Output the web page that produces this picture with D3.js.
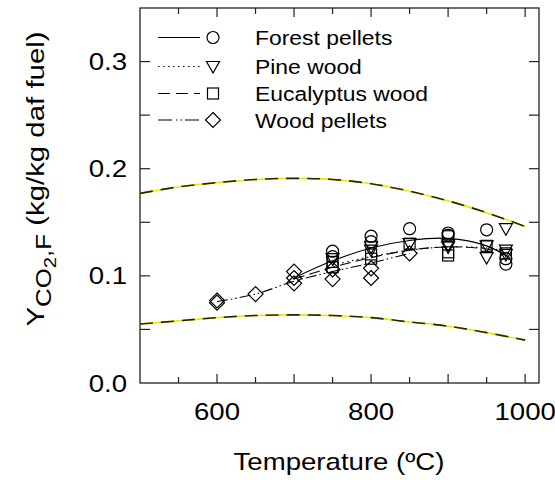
<!DOCTYPE html>
<html>
<head>
<meta charset="utf-8">
<script src="https://cdn.jsdelivr.net/npm/d3@7"></script>
<style>
  html, body { margin: 0; padding: 0; background: #fff; }
  text { font-family: "Liberation Sans", Arial, sans-serif; fill: #000; }
</style>
</head>
<body>
<svg id="chart" width="555" height="480"></svg>
<script>
// Axis ticks
const xTicks = [600, 800, 1000];
const yTicks = [0.0, 0.1, 0.2, 0.3];

// Envelope curves (upper and lower limits)
const envT = [500, 550, 600, 650, 700, 750, 800, 850, 900, 950, 1000];
const envUpper = [0.177, 0.183, 0.187, 0.190, 0.191, 0.190, 0.186, 0.179, 0.170, 0.159, 0.146];
const envLower = [0.055, 0.058, 0.061, 0.063, 0.0636, 0.063, 0.061, 0.057, 0.053, 0.047, 0.040];

// Measured points
const forestT = [750, 750, 800, 800, 850, 900, 900, 950, 975, 975];
const forestY = [0.123, 0.118, 0.137, 0.132, 0.144, 0.140, 0.138, 0.143, 0.116, 0.111];
const pineT = [750, 800, 800, 850, 900, 900, 950, 950, 975, 975, 975];
const pineY = [0.116, 0.127, 0.124, 0.130, 0.129, 0.127, 0.128, 0.117, 0.144, 0.124, 0.120];
const eucT = [750, 750, 800, 800, 850, 900, 900, 900, 950, 975];
const eucY = [0.113, 0.108, 0.120, 0.116, 0.130, 0.137, 0.122, 0.119, 0.128, 0.121];
const woodT = [600, 600, 650, 700, 700, 700, 750, 750, 800, 800, 850];
const woodY = [0.077, 0.075, 0.083, 0.104, 0.098, 0.093, 0.106, 0.097, 0.107, 0.098, 0.121];

// Fitted trend lines
const forestFitT = [700, 750, 800, 850, 900, 950, 980];
const forestFitY = [0.098, 0.114, 0.126, 0.133, 0.135, 0.128, 0.117];
const pineFitT = [750, 800, 850, 900, 950, 975];
const pineFitY = [0.110, 0.118, 0.124, 0.127, 0.126, 0.123];
const eucFitT = [700, 750, 800, 850, 900, 950, 975];
const eucFitY = [0.097, 0.108, 0.117, 0.124, 0.127, 0.125, 0.121];
const woodFitT = [600, 650, 700, 750, 800, 850];
const woodFitY = [0.076, 0.083, 0.095, 0.104, 0.112, 0.121];

const legendNames = ["Forest pellets", "Pine wood", "Eucalyptus wood", "Wood pellets"];

const svg = d3.select("#chart");
const L = 140, R = 539, T = 8, B = 383;
const WIDEN = 1.15; // horizontal stretch of the label lettering

const x = d3.scaleLinear().domain([500, 1018]).range([L, R]);
const y = d3.scaleLinear().domain([0, 0.35]).range([B, T]);

// Frame
svg.append("rect").attr("x", L).attr("y", T).attr("width", R - L).attr("height", B - T)
  .attr("fill", "none").attr("stroke", "#222").attr("stroke-width", 1.3);

// Inward ticks on all four sides
const g = svg.append("g").attr("stroke", "#222").attr("stroke-width", 1.2);
d3.range(550, 1001, 50).forEach(v => {
  const major = v % 100 === 0;
  const len = major ? 9 : 6;
  g.append("line").attr("x1", x(v)).attr("x2", x(v)).attr("y1", B).attr("y2", B - len);
  g.append("line").attr("x1", x(v)).attr("x2", x(v)).attr("y1", T).attr("y2", T + len);
});
d3.range(0.05, 0.349, 0.05).forEach(v => {
  g.append("line").attr("x1", L).attr("x2", L + 10).attr("y1", y(v)).attr("y2", y(v));
  g.append("line").attr("x1", R).attr("x2", R - 10).attr("y1", y(v)).attr("y2", y(v));
});

// Tick labels
svg.selectAll(".xt").data(xTicks).enter().append("text")
  .attr("transform", d => `translate(${x(d)},420) scale(${WIDEN},1)`)
  .attr("text-anchor", "middle").attr("font-size", 24).text(d => d);
svg.selectAll(".yt").data(yTicks).enter().append("text")
  .attr("transform", d => `translate(127,${y(d) + 8.5}) scale(${WIDEN},1)`)
  .attr("text-anchor", "end").attr("font-size", 24).text(d => d3.format(".1f")(d));

// Axis titles
svg.append("text").attr("transform", `translate(339,470) scale(${WIDEN},1)`)
  .attr("text-anchor", "middle").attr("font-size", 24).text("Temperature (ºC)");

const yt = svg.append("text").attr("transform", `translate(44,179) rotate(-90) scale(1.2,1)`)
  .attr("text-anchor", "middle").attr("font-size", 24.5);
yt.append("tspan").text("Y");
yt.append("tspan").attr("font-size", 21.5).attr("dy", 7).text("CO");
yt.append("tspan").attr("font-size", 17).attr("dy", 5).text("2");
yt.append("tspan").attr("font-size", 21.5).attr("dy", -5).text(",F");
yt.append("tspan").attr("font-size", 24.5).attr("dy", -7).text(" (kg/kg daf fuel)");

// Envelope curves: yellow line with black dashes on top
const envLine = d3.line().x((d, i) => x(envT[i])).y(d => y(d)).curve(d3.curveCatmullRom);
[envUpper, envLower].forEach(arr => {
  svg.append("path").attr("d", envLine(arr)).attr("fill", "none")
    .attr("stroke", "#f2e600").attr("stroke-width", 1.6);
  svg.append("path").attr("d", envLine(arr)).attr("fill", "none")
    .attr("stroke", "#262600").attr("stroke-width", 1.6).attr("stroke-dasharray", "13,8");
});

// Trend lines
const fits = [
  [forestFitT, forestFitY, null],
  [pineFitT, pineFitY, "1.5,3.5"],
  [eucFitT, eucFitY, "11,5"],
  [woodFitT, woodFitY, "11,3,1.5,3,1.5,3"]
];
fits.forEach(([ts, vs, dash]) => {
  const ln = d3.line().x((d, i) => x(ts[i])).y(d => y(d)).curve(d3.curveCatmullRom);
  const p = svg.append("path").attr("d", ln(vs)).attr("fill", "none")
    .attr("stroke", "#000").attr("stroke-width", 1.1);
  if (dash) p.attr("stroke-dasharray", dash);
});

// Marker shapes
function marker(sel, kind, cx, cy) {
  const s = { fill: "none", stroke: "#000", "stroke-width": 1.2 };
  let el;
  if (kind === "circle") {
    el = sel.append("circle").attr("cx", cx).attr("cy", cy).attr("r", 6);
  } else if (kind === "tri") {
    el = sel.append("path").attr("d", `M${cx-6.5},${cy-5} L${cx+6.5},${cy-5} L${cx},${cy+6.5} Z`);
  } else if (kind === "square") {
    el = sel.append("rect").attr("x", cx - 5.5).attr("y", cy - 5.5).attr("width", 11).attr("height", 11);
  } else {
    el = sel.append("path").attr("d", `M${cx},${cy-7.5} L${cx+7.5},${cy} L${cx},${cy+7.5} L${cx-7.5},${cy} Z`);
  }
  Object.entries(s).forEach(([k, v]) => el.attr(k, v));
}

const mk = svg.append("g");
woodT.forEach((t, i) => marker(mk, "diamond", x(t), y(woodY[i])));
eucT.forEach((t, i) => marker(mk, "square", x(t), y(eucY[i])));
pineT.forEach((t, i) => marker(mk, "tri", x(t), y(pineY[i])));
forestT.forEach((t, i) => marker(mk, "circle", x(t), y(forestY[i])));

// Legend
const kinds = ["circle", "tri", "square", "diamond"];
const dashes = [null, "1.5,3.5", "12,6", "14,4,1.5,3,1.5,3"];
const rowY = [37.5, 66.5, 93.5, 120];
const lg = svg.append("g");
legendNames.forEach((name, i) => {
  const l = lg.append("line").attr("x1", 158).attr("x2", 200).attr("y1", rowY[i]).attr("y2", rowY[i])
    .attr("stroke", "#000").attr("stroke-width", 1.1);
  if (dashes[i]) l.attr("stroke-dasharray", dashes[i]);
  marker(lg, kinds[i], 213, rowY[i]);
  lg.append("text").attr("transform", `translate(255,${rowY[i] + 7.5}) scale(1.09,1)`)
    .attr("font-size", 21).text(name);
});
</script>
</body>
</html>
